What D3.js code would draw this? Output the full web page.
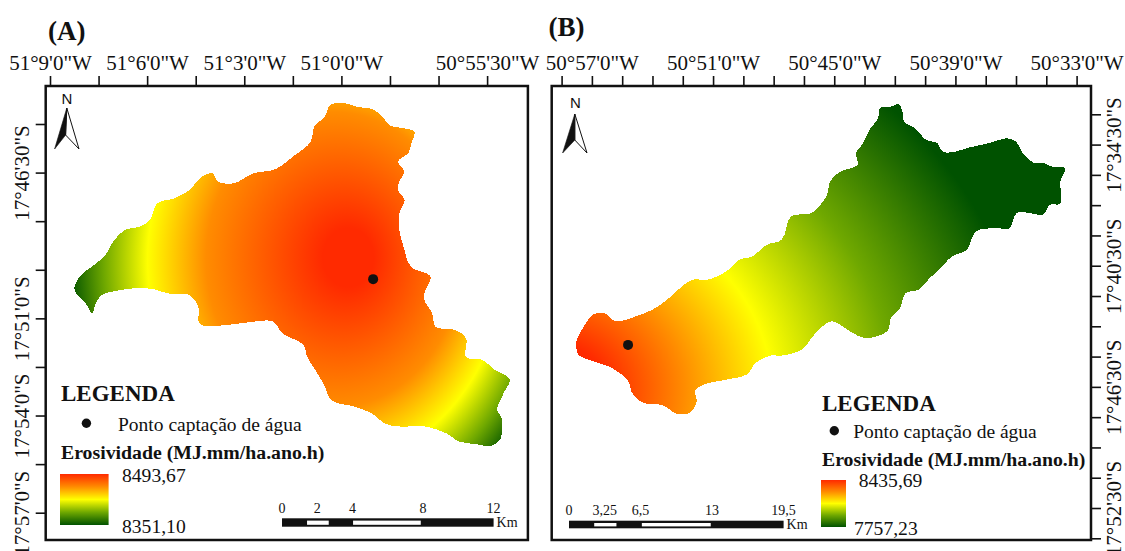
<!DOCTYPE html>
<html>
<head>
<meta charset="utf-8">
<script src="https://cdn.jsdelivr.net/npm/d3@7"></script>
<style>
  html, body { margin: 0; background: #fff; }
  svg { display: block; }
  text { font-family: "Liberation Serif", serif; fill: #111; }
</style>
</head>
<body>
<svg id="chart" width="1125" height="551"></svg>
<script>
// longitude = minutes west of 50 deg, latitude = minutes south of 17 deg
const lonTicksA = [69, 67.5, 66, 64.5, 63, 61.5, 60, 58.5, 57, 55.5]
const lonLabelsA = [69, 66, 63, 60, 55.5]
const latTicksA = [45, 46.5, 48, 49.5, 51, 52.5, 54, 55.5, 57]
const latLabelsA = [46.5, 51, 54, 57]

const lonTicksB = [58.5, 57, 55.5, 54, 52.5, 51, 49.5, 48, 46.5, 45, 43.5, 42, 40.5, 39, 37.5, 36, 34.5, 33]
const lonLabelsB = [57, 51, 45, 39, 33]
const latTicksB = [33, 34.5, 36, 37.5, 39, 40.5, 42, 43.5, 45, 46.5, 48, 49.5, 51, 52.5, 54]
const latLabelsB = [34.5, 40.5, 46.5, 52.5]

const basinA = [
  [59.96, 44.34], [59.51, 44.47], [59.02, 44.55], [58.69, 44.83], [58.47, 45.06], [58.08, 45.13],
  [57.75, 45.24], [57.84, 45.6], [57.92, 45.88], [58.25, 46.16], [58.06, 46.47], [58.21, 46.78],
  [58.25, 47.04], [58.05, 47.35], [58.21, 47.76], [58.21, 48.27], [58.08, 48.79], [57.86, 49.4],
  [57.25, 49.71], [57.42, 50.17], [57.44, 50.43], [57.2, 50.84], [57.09, 51.26], [56.48, 51.36],
  [56.15, 51.62], [56.15, 52.2], [55.65, 52.28], [55.27, 52.59], [54.8, 52.88], [54.99, 53.31],
  [55.19, 53.83], [55.05, 54.08], [55.1, 54.75], [55.38, 54.94], [55.87, 54.88], [56.37, 54.8],
  [56.76, 54.55], [57.42, 54.34], [58.19, 54.34], [58.63, 54.26], [59.07, 53.93], [59.62, 53.72],
  [60.29, 53.54], [60.56, 53], [60.78, 52.64], [61.06, 52.18], [61.17, 51.82], [61.83, 51.46],
  [62.11, 51.1], [62.93, 51.13], [63.49, 51.2], [64.37, 51.18], [64.42, 50.64], [64.7, 50.28],
  [65.36, 50.23], [65.8, 50.1], [66.35, 50.07], [66.9, 50.14], [67.4, 50.28], [67.59, 50.54],
  [67.7, 50.84], [67.9, 50.54], [68.17, 50.25], [68.25, 50.07], [68.06, 49.69], [67.57, 49.3],
  [67.29, 49.04], [67.01, 48.58], [66.68, 48.27], [66.24, 48.17], [65.91, 47.96], [65.69, 47.45],
  [65.14, 47.29], [64.7, 47.04], [64.31, 46.63], [63.98, 46.52], [63.82, 46.78], [63.32, 46.83],
  [62.71, 46.52], [62.05, 46.4], [61.5, 46.01], [60.95, 45.55], [60.84, 45.08], [60.51, 44.77],
  [60.34, 44.41]
]

const basinB = [
  [42.74, 32.7], [42.19, 32.62], [41.83, 32.5], [41.64, 32.78], [41.55, 33.36], [41, 33.69],
  [40.45, 34.27], [39.9, 34.43], [39.63, 34.85], [39.17, 34.88], [38.26, 34.63], [37.34, 34.43],
  [36.42, 34.19], [36.02, 34.35], [35.6, 35.01], [35.14, 35.39], [34.59, 35.42], [34.23, 35.59],
  [33.58, 35.67], [33.8, 36.33], [33.82, 37.43], [34.32, 37.48], [34.68, 37.98], [35.32, 37.89],
  [35.97, 37.89], [36.33, 38.64], [36.97, 38.64], [37.98, 38.8], [38.44, 39.71], [39.17, 40.04],
  [39.81, 40.7], [40.27, 41.11], [40.82, 41.69], [41.46, 41.85], [41.74, 42.59], [42.19, 43.09],
  [42.38, 43.75], [43.48, 44.08], [44.21, 43.75], [45.12, 43.25], [45.67, 43.58], [46.13, 44.08],
  [46.59, 44.65], [47.6, 44.95], [48.15, 44.95], [48.88, 45.31], [49.34, 45.89], [50.34, 46.14],
  [51.44, 46.38], [51.9, 46.71], [51.81, 47.21], [52.17, 47.79], [52.82, 47.82], [53.46, 47.42],
  [54.46, 47.29], [55.01, 46.8], [55.2, 46.22], [56.02, 45.56], [56.94, 45.23], [57.67, 44.9],
  [57.76, 44.24], [57.39, 43.5], [56.94, 42.92], [56.39, 42.84], [55.84, 43.25], [54.83, 43.01],
  [54.01, 42.68], [53.27, 42.18], [52.54, 41.52], [51.99, 41.19], [51.26, 41.19], [50.34, 40.78],
  [49.7, 40.2], [49.06, 40.04], [48.33, 39.46], [47.6, 39.21], [47.14, 38.06], [46.13, 37.89],
  [45.4, 37.07], [45.18, 36.28], [44.67, 35.83], [43.84, 35.5], [43.93, 34.93], [43.57, 34.43],
  [43.2, 33.69], [42.83, 33.2]
]

// water intake point of each basin
const intakeA = [59.02, 49.79]
const intakeB = [55.21, 44.42]

// colour ramp of the erosivity legend, top to bottom
const rampColors = ["#ff2a00", "#ff8c00", "#ffff00", "#6fa800", "#005200"]
const rampOffsets = [0, 0.25, 0.5, 0.75, 1]

// share of the radial field at which each ramp colour sits
const fieldOffsetsA = [0.1, 0.5, 0.7, 0.85, 0.97]
const fieldOffsetsB = [0.1, 0.24, 0.396, 0.61, 0.85]

const rangeA = ["8493,67", "8351,10"]
const rangeB = ["8435,69", "7757,23"]

const scaleKmA = [0, 2, 4, 8, 12]
const scaleWhiteA = [[1.42, 2.65], [4.03, 7.87]]
const scaleKmB = [0, 3.25, 6.5, 13, 19.5]
const scaleWhiteB = [[2.29, 4.31], [6.62, 12.88]]

const svg = d3.select("#chart")
const defs = svg.append("defs")

function dms(minutes, hemisphere, degrees) {
    const whole = Math.floor(minutes)
    const sec = Math.round((minutes - whole) * 60)
    const deg = degrees + Math.floor(whole / 60)
    return `${deg}°${whole % 60}'${sec}"${hemisphere}`
}

// radial field, stretched vertically so the colour bands can be elliptical
function addFieldGradient(id, center, focal, rx, ry, offsets) {
    const stretch = ry / rx
    let grad = defs.append("radialGradient")
        .attr("id", id)
        .attr("gradientUnits", "userSpaceOnUse")
        .attr("cx", center[0]).attr("cy", center[1]).attr("r", rx)
        .attr("fx", focal[0]).attr("fy", center[1] + (focal[1] - center[1]) / stretch)
        .attr("gradientTransform", `translate(0,${center[1]}) scale(1,${stretch}) translate(0,${-center[1]})`)
    grad.selectAll("stop").data(rampColors).join("stop")
        .attr("offset", (d, i) => offsets[i])
        .attr("stop-color", d => d)
}

let legendGrad = defs.append("linearGradient")
    .attr("id", "legendRamp")
    .attr("x1", 0).attr("x2", 0).attr("y1", 0).attr("y2", 1)
legendGrad.selectAll("stop").data(rampColors).join("stop")
    .attr("offset", (d, i) => rampOffsets[i])
    .attr("stop-color", d => d)

function drawAxes(p) {
    const g = svg.append("g")
    const topAxis = d3.axisTop(p.x)
        .tickValues(p.lonTicks)
        .tickSize(10)
        .tickSizeOuter(0)
        .tickFormat(d => p.lonLabels.includes(d) ? dms(d, "W", 50) : "")
    const sideAxis = (p.side === "left" ? d3.axisLeft(p.y) : d3.axisRight(p.y))
        .tickValues(p.latTicks)
        .tickSize(10)
        .tickSizeOuter(0)
        .tickFormat(d => p.latLabels.includes(d) ? dms(d, "S", 17) : "")

    let top = g.append("g").attr("transform", `translate(0,${p.frame.top})`).call(topAxis)
    let side = g.append("g")
        .attr("transform", `translate(${p.side === "left" ? p.frame.left : p.frame.right},0)`)
        .call(sideAxis)

    for (let axis of [top, side]) {
        axis.select(".domain").remove()
        axis.selectAll("line").attr("stroke", "#111").attr("stroke-width", 1.6)
        axis.selectAll("text").attr("font-size", 21).attr("font-family", null).attr("fill", "#111")
    }
    top.selectAll("text").attr("y", -16.5).attr("dy", 0)
    side.selectAll("text")
        .attr("x", 0).attr("y", 0).attr("dy", 0)
        .attr("text-anchor", "middle")
        .attr("transform", `translate(${p.side === "left" ? -17 : 29.5},0) rotate(-90)`)

    g.append("rect")
        .attr("x", p.frame.left).attr("y", p.frame.top)
        .attr("width", p.frame.right - p.frame.left)
        .attr("height", p.frame.bottom - p.frame.top)
        .attr("fill", "none").attr("stroke", "#111").attr("stroke-width", 2.5)
}

function drawBasin(p) {
    const line = d3.line().x(d => p.x(d[0])).y(d => p.y(d[1]))
        .curve(d3.curveCatmullRomClosed.alpha(0.5))
    svg.append("path")
        .datum(p.basin)
        .attr("d", line)
        .attr("shape-rendering", "crispEdges")
        .attr("fill", `url(#${p.fieldId})`)
    svg.append("circle")
        .attr("cx", p.x(p.intake[0])).attr("cy", p.y(p.intake[1]))
        .attr("r", 5).attr("fill", "#111")
}

function drawNorth(a) {
    svg.append("text").attr("x", a.x + a.nDx).attr("y", a.nY)
        .attr("text-anchor", "middle").attr("font-size", 15)
        .style("font-family", "'Liberation Sans', sans-serif").text("N")
    const path = (pts) => "M" + pts.map(d => d.join(",")).join("L") + "Z"
    const tip = [a.x, a.y], notch = [a.x - a.notchDx, a.y + a.notch]
    const left = [a.x - a.halfW, a.y + a.h], right = [a.x + a.halfW, a.y + a.h]
    svg.append("path").attr("d", path([tip, right, notch])).attr("fill", "#fff").attr("stroke", "#111").attr("stroke-width", 1)
    svg.append("path").attr("d", path([tip, left, notch])).attr("fill", "#111").attr("stroke", "#111").attr("stroke-width", 0.6)
}

function drawLegend(l) {
    svg.append("text").attr("x", l.x).attr("y", l.titleY)
        .attr("font-size", 23).attr("font-weight", "bold").text("LEGENDA")
    svg.append("circle").attr("cx", l.dotX).attr("cy", l.dotY).attr("r", 4.7).attr("fill", "#111")
    svg.append("text").attr("x", l.pontoX).attr("y", l.pontoY)
        .attr("font-size", 19.5).text("Ponto captação de água")
    svg.append("text").attr("x", l.x).attr("y", l.unitY)
        .attr("font-size", 19.8).attr("font-weight", "bold").text("Erosividade (MJ.mm/ha.ano.h)")
    svg.append("rect")
        .attr("x", l.x - 1).attr("y", l.rampTop)
        .attr("width", l.rampW).attr("height", l.rampH)
        .attr("fill", "url(#legendRamp)")
    svg.selectAll(null).data(l.range).join("text")
        .attr("x", (d, i) => l.rangeX[i]).attr("y", (d, i) => l.rangeY[i])
        .attr("font-size", 19.6).text(d => d)
}

function drawScaleBar(s) {
    const km = d3.scaleLinear().domain([0, s.values[s.values.length - 1]]).range([s.x0, s.x1])
    svg.append("rect").attr("x", km.range()[0]).attr("y", s.y)
        .attr("width", s.x1 - s.x0).attr("height", s.h).attr("fill", "#111")
    svg.selectAll(null).data(s.white).join("rect")
        .attr("x", d => km(d[0])).attr("y", s.y + 2.3)
        .attr("width", d => km(d[1]) - km(d[0])).attr("height", s.h - 4.2)
        .attr("fill", "#fff")
    svg.selectAll(null).data(s.values).join("text")
        .attr("x", d => km(d)).attr("y", s.labelY)
        .attr("text-anchor", "middle").attr("font-size", 14)
        .text(d => String(d).replace(".", ","))
    svg.append("text").attr("x", s.x1 + 3).attr("y", s.y + s.h + 0.5)
        .attr("font-size", 14).text("Km")
}

const panelA = {
    x: d3.scaleLinear().domain([69, 55.5]).range([50, 487.1]),
    y: d3.scaleLinear().domain([45, 57]).range([124, 512.7]),
    frame: { left: 45.7, right: 527.9, top: 86, bottom: 540 },
    side: "left",
    lonTicks: lonTicksA, lonLabels: lonLabelsA, latTicks: latTicksA, latLabels: latLabelsA,
    basin: basinA, intake: intakeA, fieldId: "fieldA"
}
const panelB = {
    x: d3.scaleLinear().domain([58.5, 33]).range([561.6, 1076.6]),
    y: d3.scaleLinear().domain([33, 54]).range([114.3, 538.3]),
    frame: { left: 551.7, right: 1091, top: 86, bottom: 540 },
    side: "right",
    lonTicks: lonTicksB, lonLabels: lonLabelsB, latTicks: latTicksB, latLabels: latLabelsB,
    basin: basinB, intake: intakeB, fieldId: "fieldB"
}

addFieldGradient("fieldA", [315, 262], [352, 257], 255, 295, fieldOffsetsA)
addFieldGradient("fieldB", [550, 390], [550, 390], 560, 476, fieldOffsetsB)

for (let p of [panelA, panelB]) {
    drawBasin(p)
    drawAxes(p)
}

svg.append("text").attr("x", 48).attr("y", 40).attr("font-size", 27).attr("font-weight", "bold").text("(A)")
svg.append("text").attr("x", 548.5).attr("y", 36).attr("font-size", 27).attr("font-weight", "bold").text("(B)")

drawNorth({ x: 66.8, y: 108, h: 41, halfW: 12.2, notch: 27, notchDx: 1.2, nDx: 0, nY: 104 })
drawNorth({ x: 574.8, y: 114, h: 39, halfW: 12.2, notch: 26, notchDx: 0, nDx: 0.5, nY: 108 })

drawLegend({
    x: 61, titleY: 401, dotX: 86.4, dotY: 423.3, pontoX: 118, pontoY: 431, unitY: 459,
    rampTop: 474, rampW: 48.6, rampH: 51,
    range: rangeA, rangeX: [122, 122], rangeY: [482, 533]
})
drawLegend({
    x: 822, titleY: 411, dotX: 834.3, dotY: 430.7, pontoX: 853.2, pontoY: 437.7, unitY: 465.7,
    rampTop: 480, rampW: 25, rampH: 47,
    range: rangeB, rangeX: [858.7, 854], rangeY: [487.3, 535]
})

drawScaleBar({ values: scaleKmA, white: scaleWhiteA, x0: 282, x1: 493.6, y: 518.3, h: 8.4, labelY: 513 })
drawScaleBar({ values: scaleKmB, white: scaleWhiteB, x0: 569, x1: 783.6, y: 520.7, h: 7.6, labelY: 515 })
</script>
</body>
</html>
